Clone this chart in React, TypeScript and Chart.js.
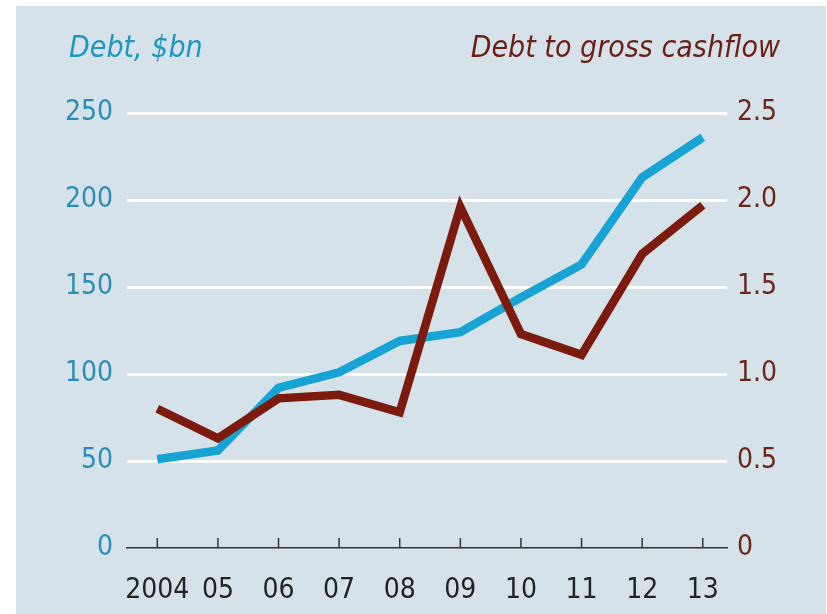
import React, { useEffect, useRef } from "react";
import { Chart, registerables } from "chart.js";

Chart.register(...registerables);

const years = [2004, 2005, 2006, 2007, 2008, 2009, 2010, 2011, 2012, 2013];
const xLabels = ["2004", "05", "06", "07", "08", "09", "10", "11", "12", "13"];
const debtBn = [51, 56, 92, 101, 119, 124, 144, 163, 213, 236];
const debtToCashflow = [0.8, 0.63, 0.86, 0.88, 0.78, 1.96, 1.23, 1.11, 1.69, 1.97];
const leftTitle = "Debt, $bn";
const rightTitle = "Debt to gross cashflow";

const FONT = "'DejaVu Sans Condensed', 'DejaVu Sans', sans-serif";
const BLUE_LINE = "#17a3d3";
const RED_LINE = "#7c1b0d";
const BLUE_TEXT = "#2a8db6";
const RED_TEXT = "#6c2519";

export default function App() {
  const ref = useRef<HTMLCanvasElement | null>(null);

  useEffect(() => {
    if (!ref.current) return;

    const decor = {
      id: "decor",
      afterDraw(chart: any) {
        const ctx = chart.ctx;
        const xs = chart.scales.x;
        const area = chart.chartArea;
        ctx.save();
        ctx.strokeStyle = "#333333";
        ctx.lineWidth = 1.5;
        xs.ticks.forEach((t: any) => {
          const px = xs.getPixelForValue(t.value);
          ctx.beginPath();
          ctx.moveTo(px, area.bottom);
          ctx.lineTo(px, area.bottom - 10);
          ctx.stroke();
        });
        ctx.font = "italic 30px " + FONT;
        ctx.textBaseline = "alphabetic";
        ctx.textAlign = "left";
        ctx.fillStyle = "#1c97c3";
        ctx.fillText(leftTitle, 53, 51);
        ctx.textAlign = "right";
        ctx.fillStyle = "#6b1e14";
        ctx.fillText(rightTitle, 764, 51);
        ctx.restore();
      },
    };

    const chart = new Chart(ref.current, {
      type: "line",
      data: {
        datasets: [
          {
            label: rightTitle,
            data: years.map((y, i) => ({ x: y, y: debtToCashflow[i] })),
            yAxisID: "y2",
            borderColor: RED_LINE,
            borderWidth: 8.5,
            pointRadius: 0,
            tension: 0,
            clip: false as any,
            order: 0,
          },
          {
            label: leftTitle,
            data: years.map((y, i) => ({ x: y, y: debtBn[i] })),
            yAxisID: "y",
            borderColor: BLUE_LINE,
            borderWidth: 8.5,
            pointRadius: 0,
            tension: 0,
            clip: false as any,
            order: 1,
          },
        ],
      },
      options: {
        animation: false,
        responsive: false,
        events: [],
        layout: { padding: { top: 107, left: 0, right: 0, bottom: 0 } },
        plugins: { legend: { display: false }, tooltip: { enabled: false }, title: { display: false } },
        scales: {
          x: {
            type: "linear",
            min: 2003.5,
            max: 2013.4,
            afterBuildTicks: (s: any) => {
              s.ticks = years.map((v) => ({ value: v }));
            },
            afterFit: (s: any) => {
              s.height = 66;
            },
            grid: { display: false, drawTicks: false },
            border: { display: true, color: "#333333", width: 1.5 },
            ticks: {
              padding: 26,
              color: "#222222",
              font: { family: FONT, size: 28 },
              autoSkip: false,
              maxRotation: 0,
              callback: (v: any) => {
                const i = years.indexOf(Number(v));
                return i >= 0 ? xLabels[i] : "";
              },
            },
          },
          y: {
            position: "left",
            min: 0,
            max: 250,
            afterFit: (s: any) => {
              s.width = 111;
            },
            ticks: {
              stepSize: 50,
              padding: 14,
              color: BLUE_TEXT,
              font: { family: FONT, size: 28 },
            },
            grid: {
              drawTicks: false,
              lineWidth: 3,
              color: (c: any) => (c.tick && c.tick.value === 0 ? "rgba(0,0,0,0)" : "#ffffff"),
            },
            border: { display: false },
          },
          y2: {
            position: "right",
            min: 0,
            max: 2.5,
            afterFit: (s: any) => {
              s.width = 99;
            },
            ticks: {
              stepSize: 0.5,
              padding: 10,
              color: RED_TEXT,
              font: { family: FONT, size: 28 },
              callback: (v: any) => (Number(v) === 0 ? "0" : Number(v).toFixed(1)),
            },
            grid: { drawOnChartArea: false, drawTicks: false },
            border: { display: false },
          },
        },
      },
      plugins: [decor],
    });

    return () => chart.destroy();
  }, []);

  return (
    <div
      style={{
        position: "fixed",
        left: 16,
        top: 6,
        width: 810,
        height: 608,
        background: "#d5e2e9",
      }}
    >
      <canvas ref={ref} width={810} height={608} style={{ display: "block", width: 810, height: 608 }} />
    </div>
  );
}
